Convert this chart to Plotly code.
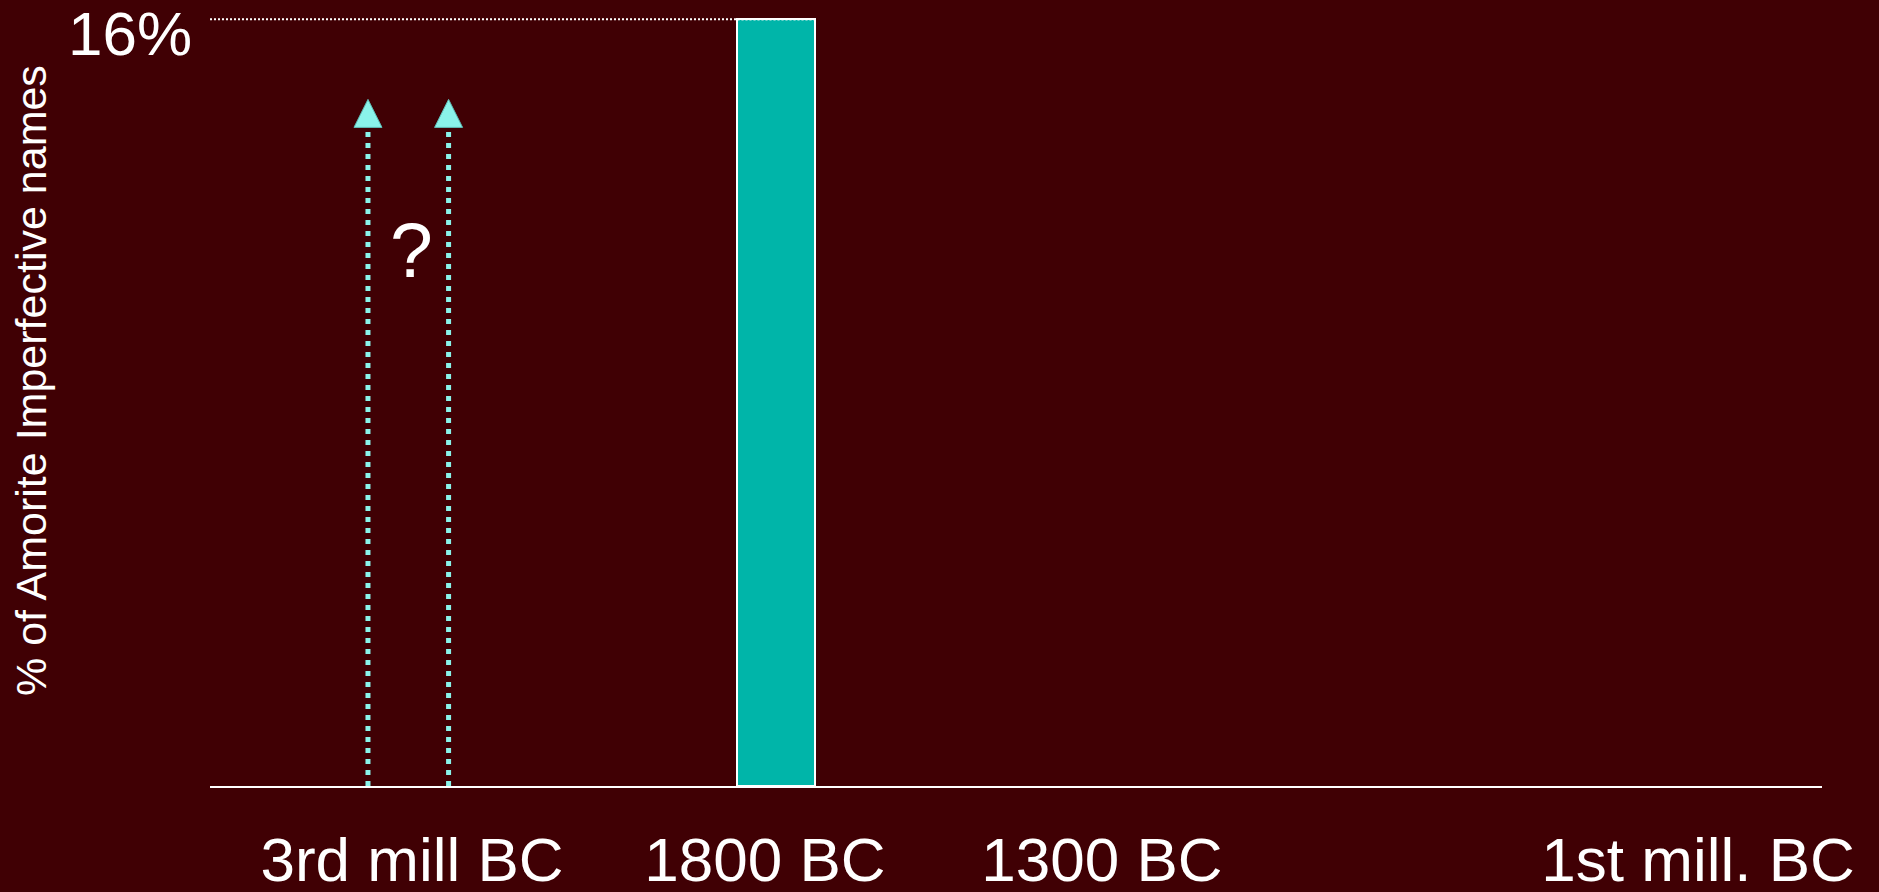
import plotly.graph_objects as go

# ---- data ----
periods = ["3rd mill BC", "1800 BC", "1300 BC", "1st mill. BC"]
period_pos = [1.253, 3.443, 5.533, 9.231]          # where each period label sits on the time axis
bar_period = ["1800 BC"]
bar_values = [16]                                   # % of Amorite imperfective names
bar_pos = [3.511]
bar_width = 0.484
unknown_pos = [0.98, 1.48]                          # 3rd mill BC: value unknown (arrows)
unknown_top = [14.33, 14.33]
y_max_label = "16%"
y_title = "% of Amorite Imperfective names"

BG = "#400004"
TEAL = "#00B5A9"
AQUA = "#8AF3EA"
FONT = "Liberation Sans, Arial, sans-serif"

fig = go.Figure()

# dotted reference line at top value
fig.add_trace(go.Scatter(
    x=[0, bar_pos[0] + bar_width / 2], y=[bar_values[0], bar_values[0]],
    mode="lines", line=dict(color="white", width=2, dash="2px,2px"),
    hoverinfo="skip", showlegend=False))

# bar
fig.add_trace(go.Bar(
    x=bar_pos, y=bar_values, width=bar_width,
    marker=dict(color=TEAL, line=dict(color="white", width=2)),
    showlegend=False, hovertext=bar_period))

# redraw dotted line on top of bar edge
fig.add_trace(go.Scatter(
    x=[bar_pos[0] - bar_width / 2, bar_pos[0] + bar_width / 2], y=[bar_values[0], bar_values[0]],
    mode="lines", line=dict(color="white", width=2, dash="2px,2px"),
    hoverinfo="skip", showlegend=False))

# unknown-value arrows
for xp, yt in zip(unknown_pos, unknown_top):
    fig.add_trace(go.Scatter(
        x=[xp, xp], y=[0, yt - 0.6],
        mode="lines", line=dict(color=AQUA, width=5, dash="5px,6px"),
        hoverinfo="skip", showlegend=False))
    fig.add_trace(go.Scatter(
        x=[xp], y=[yt], mode="markers",
        marker=dict(symbol="arrow-up", size=28, color=AQUA,
                    line=dict(color="#5fbfb8", width=1)),
        hoverinfo="skip", showlegend=False))

annotations = [
    dict(text="?", x=sum(unknown_pos) / 2 + 0.02, y=11.19, xref="x", yref="y",
         showarrow=False, font=dict(size=77, color="white", family=FONT),
         xanchor="center", yanchor="middle", yshift=0),
    dict(text=y_max_label, x=0, y=1, xref="paper", yref="paper",
         showarrow=False, font=dict(size=62, color="white", family=FONT),
         xanchor="right", yanchor="top", xshift=-16, yshift=8),
    dict(text=y_title, x=0, y=0.5185, xref="paper", yref="paper",
         showarrow=False, textangle=-90, font=dict(size=43, color="white", family=FONT),
         xanchor="center", yanchor="middle", xshift=-179),
]

fig.update_layout(
    width=1879, height=892,
    paper_bgcolor=BG, plot_bgcolor=BG,
    margin=dict(l=210, r=57, t=5, b=106, autoexpand=False),
    font=dict(family=FONT, color="white"),
    annotations=annotations,
    xaxis=dict(range=[0, 10], showgrid=False, zeroline=False, automargin=False,
               showline=True, linecolor="white", linewidth=2,
               tickmode="array", tickvals=period_pos, ticktext=periods,
               ticks="", tickfont=dict(size=62, color="white", family=FONT),
               ticklabelstandoff=19),
    yaxis=dict(range=[0, 16.3], showgrid=False, zeroline=False, automargin=False,
               showline=False, showticklabels=False, ticks=""),
    bargap=0,
)

fig.write_html("out.html", config={"displayModeBar": False},
               post_script="document.body.style.margin='0';document.body.style.overflow='hidden';")
